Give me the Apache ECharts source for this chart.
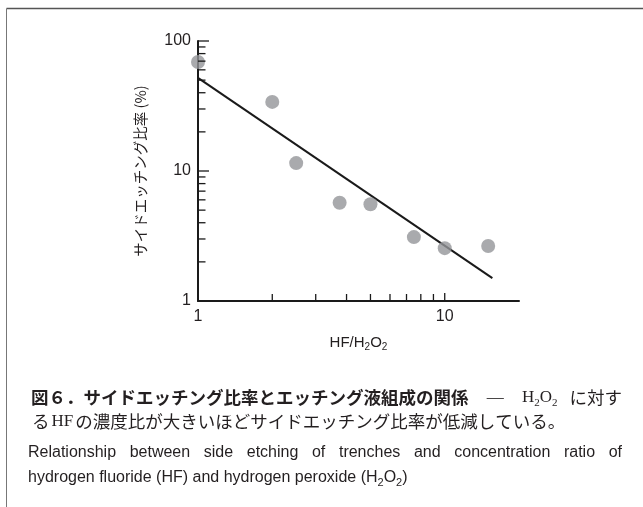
<!DOCTYPE html>
<html>
<head>
<meta charset="utf-8">
<script src="https://cdn.jsdelivr.net/npm/echarts@6/dist/echarts.min.js"></script>
<style>
  html, body { margin: 0; padding: 0; background: #fff; }
  #chart { width: 643px; height: 507px; }
</style>
</head>
<body>
<div id="chart"></div>
<script>
// ---- data ----
const ratio     = [1, 2, 2.5, 3.75, 5, 7.5, 10, 15];          // HF/H2O2
const sideEtch  = [69, 34, 11.5, 5.7, 5.55, 3.1, 2.55, 2.65];  // side etching ratio (%)
const fitX      = [1, 15.6];
const fitY      = [52, 1.5];
const xTickValues = [2, 3, 4, 5, 6, 7, 8, 9, 10];
const yTickValues = [2, 3, 4, 5, 6, 7, 8, 9, 10, 20, 30, 40, 50, 60, 70, 80, 90, 100];
const xLabelValues = [1, 10];
const yLabelValues = [1, 10, 100];

const captionTitle = '図６．サイドエッチング比率とエッチング液組成の関係';
const captionLine2 = 'の濃度比が大きいほどサイドエッチング比率が低減している。';
const captionLine3 = 'Relationship between side etching of trenches and concentration ratio of';

const isPow10 = v => Math.abs(Math.log10(v) - Math.round(Math.log10(v))) < 1e-6;
const near = (v, arr) => arr.some(a => Math.abs(a - v) / a < 1e-6);

// text measuring for justified caption lines
const mctx = document.createElement('canvas').getContext('2d');
function measure(text, size, family, weight) {
  mctx.font = (weight || 'normal') + ' ' + size + 'px "' + family + '"';
  return mctx.measureText(text).width;
}

const chart = echarts.init(document.getElementById('chart'), null, { renderer: 'canvas' });
const ink = '#1a1a1a';
const txt = '#231f20';

// line 1: bold title + serif tail, justified to the right edge
const L1 = { left: 31, right: 622 };
const l1Extra = Math.max(0, (L1.right - L1.left) - (
  measure(captionTitle, 17.5, 'Noto Sans CJK JP', 'bold') +
  measure(' — ', 17, 'Liberation Serif') +
  measure('H', 17, 'Liberation Serif') + measure('O', 17, 'Liberation Serif') +
  2 * measure('2', 11, 'Liberation Serif') +
  measure('に対す', 17.5, 'Noto Sans CJK JP')));

// line 3: English, word-justified
const L3 = { left: 28, right: 622 };
const words3 = captionLine3.split(' ');
const w3Natural = measure(captionLine3, 16, 'Liberation Sans');
const spaceW = measure(' ', 16, 'Liberation Sans');
const l3Gap = spaceW + Math.max(0, ((L3.right - L3.left) - w3Natural) / (words3.length - 1));
const line3Rich = words3.map(w => '{e|' + w + '}').join('{sp| }');

const option = {
  backgroundColor: '#fff',
  animation: false,
  grid: { left: 198, top: 41, right: 124, bottom: 206, containLabel: false },
  xAxis: {
    type: 'log', logBase: 10, min: 1, max: 20,
    axisLine: { show: true, lineStyle: { color: ink, width: 2 } },
    axisTick: { show: false },
    splitLine: { show: false },
    minorTick: { show: false },
    axisLabel: {
      margin: 8, fontSize: 16, color: txt, fontFamily: 'Liberation Sans',
      formatter: v => near(v, xLabelValues) ? String(Math.round(v)) : ''
    },
    name: '{a|HF/H}{b|2}{a|O}{b|2}',
    nameLocation: 'middle', nameGap: 33,
    nameTextStyle: {
      rich: {
        a: { fontSize: 15, fontFamily: 'Liberation Sans', color: txt, lineHeight: 18 },
        b: { fontSize: 10, fontFamily: 'Liberation Sans', color: txt, lineHeight: 12, verticalAlign: 'bottom' }
      }
    }
  },
  yAxis: {
    type: 'log', logBase: 10, min: 1, max: 100,
    axisLine: { show: true, lineStyle: { color: ink, width: 2 } },
    axisTick: { show: false },
    splitLine: { show: false },
    minorTick: { show: false },
    axisLabel: {
      margin: 7, fontSize: 16, color: txt, fontFamily: 'Liberation Sans',
      formatter: v => near(v, yLabelValues) ? String(Math.round(v)) : ''
    },
    name: 'サイドエッチング比率 (%)',
    nameLocation: 'middle', nameRotate: 90, nameGap: 50,
    nameTextStyle: { fontSize: 14.5, fontFamily: 'Noto Sans CJK JP', color: txt }
  },
  series: [
    {
      type: 'line',
      data: fitX.map((x, i) => [x, fitY[i]]),
      symbol: 'none',
      lineStyle: { color: ink, width: 2 },
      z: 2, silent: true
    },
    {
      type: 'scatter',
      data: ratio.map((x, i) => [x, sideEtch[i]]),
      symbol: 'circle', symbolSize: 14,
      itemStyle: { color: '#939598' },
      z: 3, silent: true
    },
    {
      type: 'custom',
      coordinateSystem: 'cartesian2d',
      data: xTickValues.map(v => [v, 1]),
      clip: false, silent: true, z: 4,
      renderItem: (params, api) => {
        const v = api.value(0);
        const p = api.coord([v, api.value(1)]);
        const len = isPow10(v) ? 8 : 7;
        return { type: 'line', shape: { x1: p[0], y1: p[1], x2: p[0], y2: p[1] - len },
                 style: { stroke: ink, lineWidth: 1.3 } };
      }
    },
    {
      type: 'custom',
      coordinateSystem: 'cartesian2d',
      data: yTickValues.map(v => [1, v]),
      clip: false, silent: true, z: 4,
      renderItem: (params, api) => {
        const v = api.value(1);
        const p = api.coord([api.value(0), v]);
        const len = isPow10(v) ? 11 : 7.5;
        return { type: 'line', shape: { x1: p[0], y1: p[1], x2: p[0] + len, y2: p[1] },
                 style: { stroke: ink, lineWidth: 1.3 } };
      }
    }
  ],
  graphic: [
    { type: 'line', shape: { x1: 6.5, y1: 8.5, x2: 650, y2: 8.5 }, style: { stroke: '#555', lineWidth: 1.5 } },
    { type: 'line', shape: { x1: 6.5, y1: 8.5, x2: 6.5, y2: 520 }, style: { stroke: '#777', lineWidth: 1 } },
    {
      type: 'text', left: L1.left, top: 389,
      style: {
        text: '{b|' + captionTitle + '}{m| — }{r|H}{s|2}{r|O}{s|2}{j|に対す}',
        rich: {
          b: { fontSize: 17.5, fontWeight: 'bold', fontFamily: 'Noto Sans CJK JP', fill: txt, lineHeight: 22 },
          m: { fontSize: 17, fontFamily: 'Liberation Serif', fill: txt, lineHeight: 22,
               padding: [0, l1Extra * 0.35, 0, l1Extra * 0.35] },
          r: { fontSize: 17, fontFamily: 'Liberation Serif', fill: txt, lineHeight: 22 },
          s: { fontSize: 11, fontFamily: 'Liberation Serif', fill: txt, lineHeight: 14, verticalAlign: 'bottom' },
          j: { fontSize: 17.5, fontFamily: 'Noto Sans CJK JP', fill: txt, lineHeight: 22,
               padding: [0, 0, 0, l1Extra * 0.3] }
        }
      }
    },
    {
      type: 'text', left: 32, top: 413,
      style: {
        text: '{j|る}{r|HF}{j|' + captionLine2 + '}',
        rich: {
          r: { fontSize: 17, fontFamily: 'Liberation Serif', fill: txt, lineHeight: 22, padding: [0, 2, 0, 2] },
          j: { fontSize: 17.5, fontFamily: 'Noto Sans CJK JP', fill: txt, lineHeight: 22 }
        }
      }
    },
    {
      type: 'text', left: L3.left, top: 445,
      style: {
        text: line3Rich,
        rich: {
          e: { fontSize: 16, fontFamily: 'Liberation Sans', fill: txt, lineHeight: 20 },
          sp: { fontSize: 16, fontFamily: 'Liberation Sans', fill: txt, lineHeight: 20, width: l3Gap }
        }
      }
    },
    {
      type: 'text', left: 28, top: 470,
      style: {
        text: '{e|hydrogen fluoride (HF) and hydrogen peroxide (H}{s|2}{e|O}{s|2}{e|)}',
        rich: {
          e: { fontSize: 16, fontFamily: 'Liberation Sans', fill: txt, lineHeight: 20 },
          s: { fontSize: 11, fontFamily: 'Liberation Sans', fill: txt, lineHeight: 13, verticalAlign: 'bottom' }
        }
      }
    }
  ]
};
chart.setOption(option);
</script>
</body>
</html>
